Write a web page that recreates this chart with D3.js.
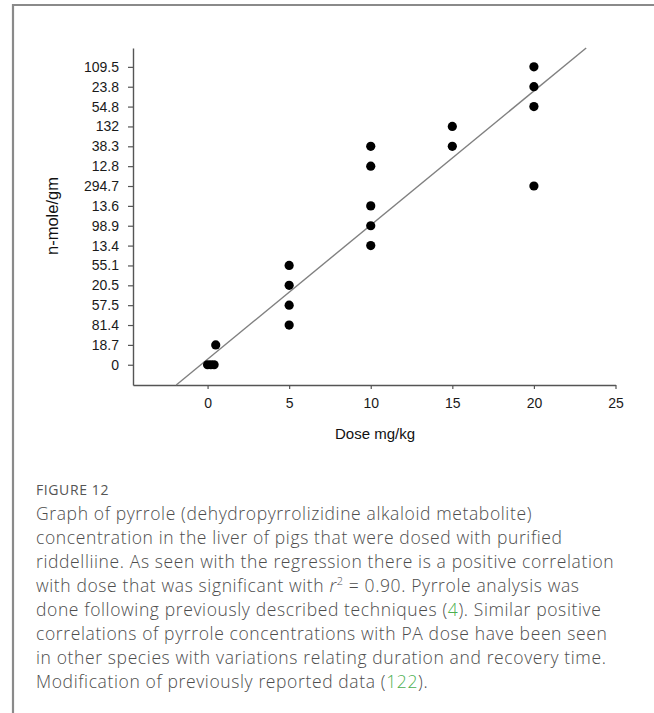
<!DOCTYPE html>
<html>
<head>
<meta charset="utf-8">
<script src="https://cdn.jsdelivr.net/npm/d3@7"></script>
<style>
  html, body { margin: 0; padding: 0; background: #fff; }
  svg { display: block; }
</style>
</head>
<body>
<svg id="fig" width="654" height="713"></svg>
<script>
// Tick labels of the pyrrole axis, bottom to top (each label sits on its own level)
const pyrroleTicks = ["0", "18.7", "81.4", "57.5", "20.5", "55.1", "13.4", "98.9",
  "13.6", "294.7", "12.8", "38.3", "132", "54.8", "23.8", "109.5"];

// Dose (mg/kg) of each pig and the pyrrole concentration measured in its liver
const doses    = [0, 0.2, 0.4, 0.5, 5, 5, 5, 5, 10, 10, 10, 10, 10, 15, 15, 20, 20, 20, 20];
const pyrroles = ["0", "0", "0", "18.7", "81.4", "57.5", "20.5", "55.1",
  "13.4", "98.9", "13.6", "12.8", "38.3", "38.3", "132", "294.7", "54.8", "23.8", "109.5"];

// Fitted regression line (level = intercept + slope * dose)
const regSlope = 0.6755;
const regIntercept = 0.277;

const doseTicks = [0, 5, 10, 15, 20, 25];

const svg = d3.select("#fig");

// Frame of the figure panel
svg.append("line").attr("x1", 13).attr("x2", 13).attr("y1", 4).attr("y2", 713)
  .attr("stroke", "#8a8a8a").attr("stroke-width", 2.2);
svg.append("line").attr("x1", 12).attr("x2", 654).attr("y1", 5).attr("y2", 5)
  .attr("stroke", "#8a8a8a").attr("stroke-width", 2.2);

const x = d3.scaleLinear().domain([-4.57, 25]).range([133, 615.5]);
const y = d3.scaleLinear().domain([-1.02, 15.95]).range([385, 48]);
const level = lbl => pyrroleTicks.indexOf(lbl);

const chartFont = "'Liberation Sans', Arial, sans-serif";

// Y axis
const yAxis = d3.axisLeft(y)
  .tickValues(d3.range(pyrroleTicks.length))
  .tickFormat(i => pyrroleTicks[i])
  .tickSize(5).tickPadding(9).tickSizeOuter(0);
const gy = svg.append("g").attr("transform", `translate(${x.range()[0]},0)`).call(yAxis);

// X axis
const xAxis = d3.axisBottom(x).tickValues(doseTicks).tickSize(4).tickPadding(9).tickSizeOuter(0);
const gx = svg.append("g").attr("transform", `translate(0,${y.range()[0]})`).call(xAxis);

[gx, gy].forEach(g => {
  g.attr("font-size", null).attr("font-family", null);
  g.select(".domain").attr("stroke", "#555").attr("stroke-width", 1.4);
  g.selectAll(".tick line").attr("stroke", "#555").attr("stroke-width", 1.2);
  g.selectAll(".tick text").attr("fill", "#1a1a1a")
    .style("font-family", chartFont).style("font-size", "14px");
});

// Axis titles
svg.append("text").attr("x", 375).attr("y", 439).attr("text-anchor", "middle")
  .attr("fill", "#111").style("font-family", chartFont).style("font-size", "15px")
  .text("Dose mg/kg");
svg.append("text").attr("transform", "translate(58,216) rotate(-90)").attr("text-anchor", "middle")
  .attr("fill", "#111").style("font-family", chartFont).style("font-size", "16.5px")
  .text("n-mole/gm");

// Regression line, clipped to the vertical extent of the axis
const [yLo, yHi] = y.domain();
const doseAt = lv => (lv - regIntercept) / regSlope;
svg.append("line")
  .attr("x1", x(doseAt(yLo))).attr("y1", y(yLo))
  .attr("x2", x(doseAt(yHi))).attr("y2", y(yHi))
  .attr("stroke", "#808080").attr("stroke-width", 1.4);

// Points
svg.append("g").selectAll("circle").data(doses).join("circle")
  .attr("cx", d => x(d))
  .attr("cy", (d, i) => y(level(pyrroles[i])))
  .attr("r", 4.6)
  .attr("fill", "#000");

// Caption
const capFont = "'Open Sans', Lato, sans-serif";
const cap = svg.append("g").style("font-family", capFont).attr("fill", "#4d4d4d");
cap.append("text").attr("x", 36).attr("y", 495).style("font-size", "14px")
  .style("letter-spacing", "0.6px").attr("fill", "#555").text("FIGURE 12");

const capLines = [
  [["Graph of pyrrole (dehydropyrrolizidine alkaloid metabolite)"]],
  [["concentration in the liver of pigs that were dosed with purified"]],
  [["riddelliine. As seen with the regression there is a positive correlation"]],
  [["with dose that was significant with "], ["r", "it"], ["2", "sup"], [" = 0.90. Pyrrole analysis was", "after"]],
  [["done following previously described techniques ("], ["4", "link"], ["). Similar positive"]],
  [["correlations of pyrrole concentrations with PA dose have been seen"]],
  [["in other species with variations relating duration and recovery time."]],
  [["Modification of previously reported data ("], ["122", "link"], [")."]]
];
capLines.forEach((parts, li) => {
  const t = cap.append("text").attr("x", 36).attr("y", 520 + li * 24)
    .style("font-size", "17.5px").style("font-weight", 300).style("letter-spacing", "0.62px");
  parts.forEach(([s, kind]) => {
    const ts = t.append("tspan").text(s);
    if (kind === "it") ts.style("font-style", "italic");
    if (kind === "sup") ts.attr("dy", -7).style("font-size", "11px");
    if (kind === "after") ts.attr("dy", 7);
    if (kind === "link") ts.attr("fill", "#4caf50");
  });
});
</script>
</body>
</html>
